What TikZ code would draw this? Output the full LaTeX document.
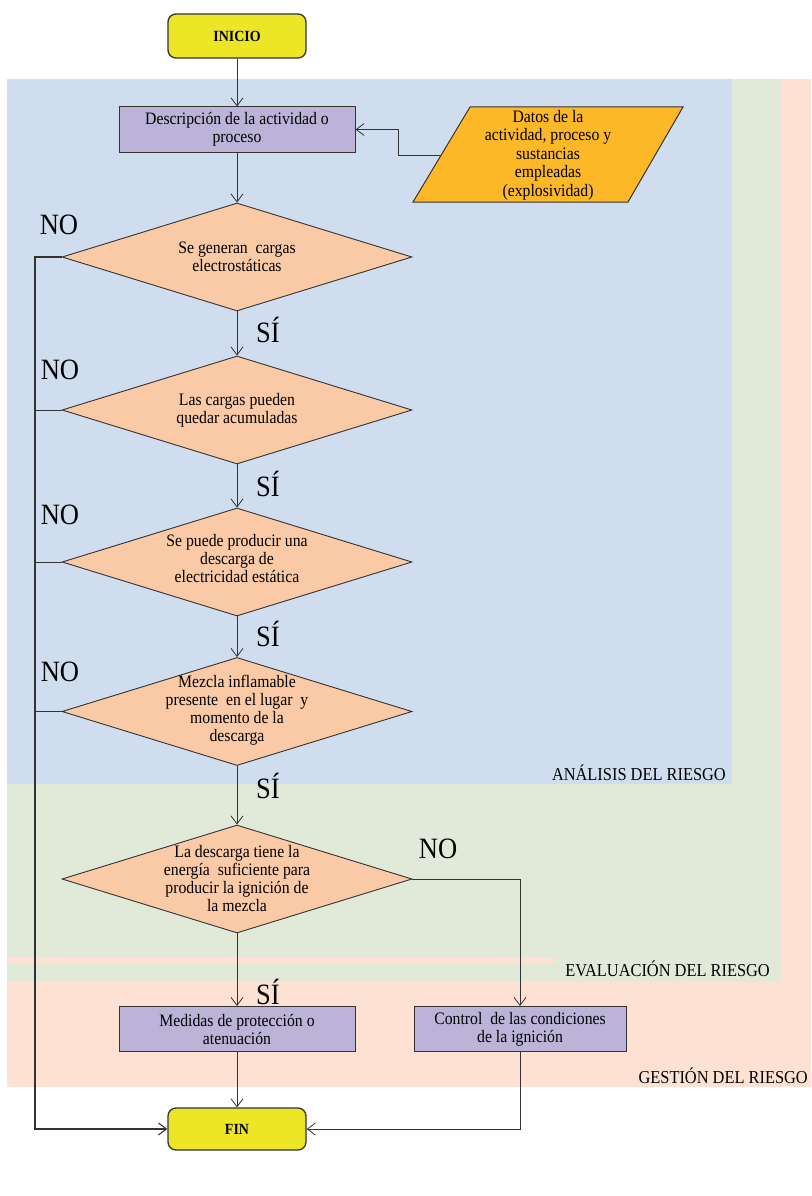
\documentclass[tikz,border=0pt]{standalone}
\usepackage{fontspec}
\setmainfont[FakeStretch=0.9]{Liberation Serif}
\usetikzlibrary{shapes.geometric,arrows.meta}
\definecolor{bgblue}{HTML}{CFDDEE}
\definecolor{bggreen}{HTML}{E1EAD9}
\definecolor{bgpeach}{HTML}{FDE2D3}
\definecolor{dfill}{HTML}{FAC9A5}
\definecolor{lav}{HTML}{BCB4D8}
\definecolor{yel}{HTML}{ECE627}
\definecolor{orng}{HTML}{FCB827}
\definecolor{ln}{HTML}{333333}
\tikzset{
  procbox/.style={draw=ln, line width=1, fill=lav, minimum width=236, minimum height=45, inner sep=0, align=center, font=\fontsize{17.5}{18}\selectfont},
  term/.style={draw=ln, line width=1.3, fill=yel, rounded corners=8, minimum width=138, minimum height=44, inner sep=0, font=\bfseries\fontsize{15.5}{16}\selectfont},
  decision/.style={diamond, draw=ln, line width=0.9, fill=dfill, minimum width=350, minimum height=108, inner sep=0},
  dtext/.style={align=center, inner sep=0, font=\fontsize{17.5}{18}\selectfont},
  yesno/.style={inner sep=0, font=\fontsize{29.5}{30}\selectfont},
  region/.style={anchor=east, inner sep=0, font=\fontsize{18.2}{19}\selectfont},
  conn/.style={draw=ln, line width=0.8, -{Straight Barb[length=8pt,width=12pt]}},
  plain/.style={draw=ln, line width=0.8}
}
\begin{document}
\begin{tikzpicture}[x=1pt,y=-1pt]
\useasboundingbox (0,0) rectangle (811,1196);
\fill[white] (0,0) rectangle (811,1196);
% background regions
\fill[bgpeach] (7,79) rectangle (811,1087);
\fill[bggreen] (7,79) rectangle (781,982);
\fill[bgpeach] (7,958) rectangle (556,963);
\fill[bgblue] (7,79) rectangle (732,784);
\node[region] (ra) at (726,773) {ANÁLISIS DEL RIESGO};
\node[region] (re) at (770,969) {EVALUACIÓN DEL RIESGO};
\node[region] (rg) at (808,1076) {GESTIÓN DEL RIESGO};

% nodes
\node[term] (inicio) at (237,36) {INICIO};
\node[procbox] (desc) at (237,129.5) {Descripción de la actividad o\\proceso};
\draw[draw=ln, line width=1, fill=orng] (470,107) -- (683,107) -- (628,202) -- (413,202) -- cycle;
\node[dtext, font=\fontsize{17.5}{18.5}\selectfont] (datos) at (548,155) {Datos de la\\actividad, proceso y\\sustancias\\empleadas\\(explosividad)};
\coordinate (datosL) at (441,155);

\node[decision] (d1) at (237,257) {};
\node[dtext] (t1) at (237,257) {Se generan~ cargas\\electrostáticas};
\node[decision] (d2) at (237,410) {};
\node[dtext] (t2) at (237,410) {Las cargas pueden\\quedar acumuladas};
\node[decision] (d3) at (237,562) {};
\node[dtext] (t3) at (237,559) {Se puede producir una\\descarga de\\electricidad estática};
\node[decision] (d4) at (237,711.5) {};
\node[dtext] (t4) at (237,710) {Mezcla inflamable\\presente~ en el lugar~ y\\momento de la\\descarga};
\node[decision] (d5) at (237,879) {};
\node[dtext] (t5) at (237,879) {La descarga tiene la\\energía~ suficiente para\\producir la ignición de\\la mezcla};

\node[procbox] (med) at (237,1029) {Medidas de protección o\\atenuación};
\node[procbox, minimum width=212] (ctrl) at (520,1029) {Control~ de las condiciones\\de la ignición};
\node[term, minimum height=42] (fin) at (237,1129) {FIN};
\coordinate (lft) at (35,1129);

% labels
\node[yesno] (no1) at (59,225) {NO};
\node[yesno] (no2) at (60,370) {NO};
\node[yesno] (no3) at (60,515) {NO};
\node[yesno] (no4) at (60,672) {NO};
\node[yesno] (no5) at (438,849) {NO};
\node[yesno] (si1) at (268,330) {SÍ};
\node[yesno] (si2) at (268,484) {SÍ};
\node[yesno] (si3) at (268,634) {SÍ};
\node[yesno] (si4) at (268,786) {SÍ};
\node[yesno] (si5) at (268,992) {SÍ};

% connectors
\draw[conn] (inicio) -- (desc);
\draw[conn] (datosL) -- (398,155) |- (desc.east);
\draw[conn] (desc) -- (d1);
\draw[conn] (d1) -- (d2);
\draw[conn] (d2) -- (d3);
\draw[conn] (d3) -- (d4);
\draw[conn] (d4) -- (d5);
\draw[conn] (d5) -- (med);
\draw[conn, line width=1.1] (d1.west) -| (lft) -- (fin.west);
\draw[plain] (d2.west) -- (d2.west -| lft);
\draw[plain] (d3.west) -- (d3.west -| lft);
\draw[plain] (d4.west) -- (d4.west -| lft);
\draw[conn] (d5.east) -| (ctrl.north);
\draw[conn] (med) -- (fin);
\draw[conn] (ctrl.south) |- (fin.east);
\end{tikzpicture}
\end{document}
